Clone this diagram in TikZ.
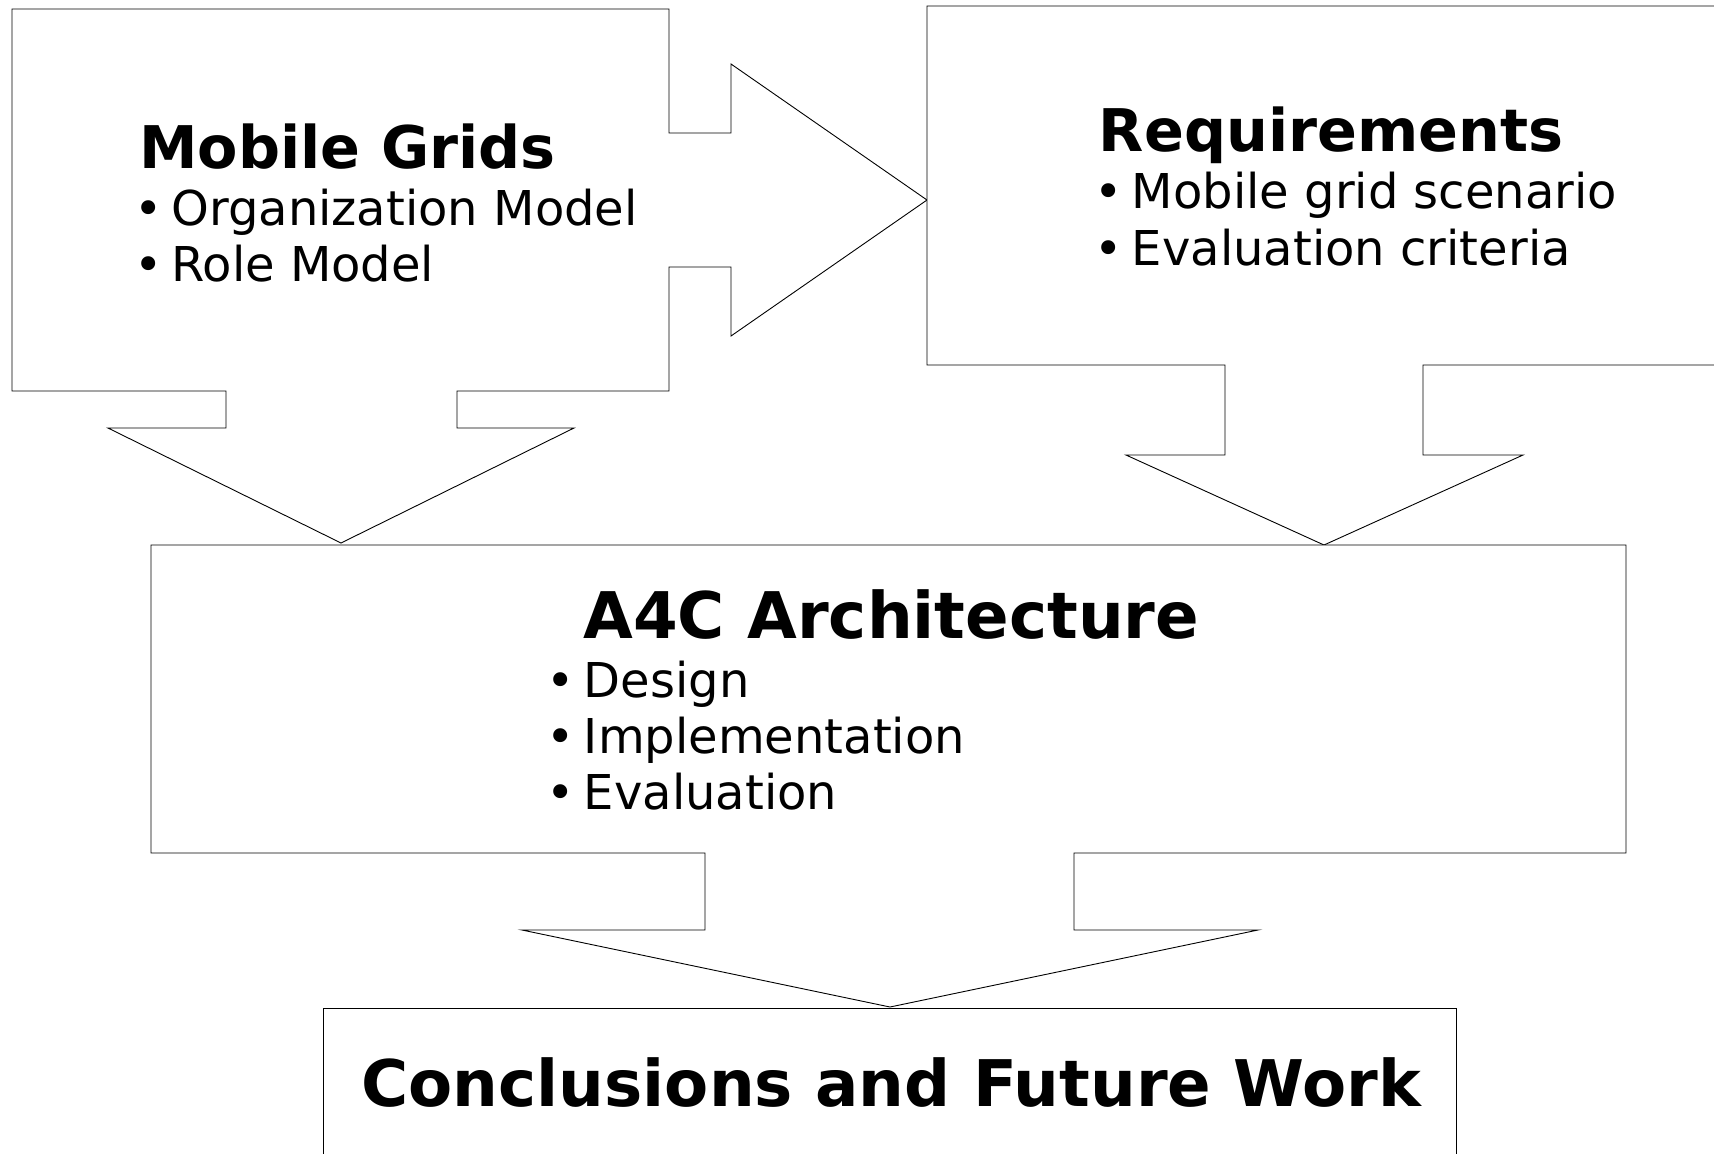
\documentclass[tikz,border=0pt]{standalone}
\usepackage{fontspec}
\setmainfont{DejaVu Sans}
\newcommand\itembul{\makebox[18.5pt][l]{•}}
\begin{document}
\begin{tikzpicture}[x=0.5pt,y=-0.5pt,
  outline/.style={draw=black,line width=0.45pt,line join=miter,fill=white},
  title/.style={anchor=base west,inner sep=0pt,font=\bfseries\fontsize{29.4pt}{35pt}\selectfont},
  bigtitle/.style={anchor=base west,inner sep=0pt,font=\bfseries\fontsize{32.15pt}{38pt}\selectfont},
  item/.style={anchor=base west,inner sep=0pt,font=\fontsize{24pt}{28.8pt}\selectfont}]
\useasboundingbox (0,0) rectangle (1714,1153);
\clip (0,0) rectangle (1714,1153);
\fill[white] (0,0) rectangle (1714,1153);

% Mobile Grids box with its two block arrows
\draw[outline] (226,391) -- (12,391) -- (12,9) -- (669,9) -- (669,133) -- (731,133)
  -- (731,64) -- (927,200) -- (731,336) -- (731,267) -- (669,267) -- (669,391)
  -- (457,391) -- (457,428) -- (574,428) -- (341,543) -- (108,428) -- (226,428) -- cycle;

% Requirements box with its block arrow
\draw[outline] (1225,365) -- (927,365) -- (927,6) -- (1740,6) -- (1740,365) -- (1423,365)
  -- (1423,455) -- (1523,455) -- (1324,545) -- (1126,455) -- (1225,455) -- cycle;

% A4C box with its block arrow
\draw[outline] (151,545) -- (1626,545) -- (1626,853) -- (1074,853) -- (1074,930)
  -- (1258,930) -- (890,1007) -- (522,930) -- (705,930) -- (705,853) -- (151,853) -- cycle;

% Conclusions box
\draw[outline] (323,1008) rectangle (1456,1175);

% texts
\node[title] (mg) at (139,168) {Mobile Grids};
\node[item] (mg1) at (134,225.5) {\itembul Organization Model};
\node[item] (mg2) at (134,281.5) {\itembul Role Model};

\node[title] (rq) at (1098.5,151) {Requirements};
\node[item] (rq1) at (1094.5,208.5) {\itembul Mobile grid scenario};
\node[item] (rq2) at (1094.5,265.5) {\itembul Evaluation criteria};

\node[bigtitle] (ar) at (583,638) {A4C Architecture};
\node[item] (ar1) at (546.5,697) {\itembul Design};
\node[item] (ar2) at (546.5,753) {\itembul Implementation};
\node[item] (ar3) at (546.5,809) {\itembul Evaluation};

\node[bigtitle] (cf) at (361,1106) {Conclusions and Future Work};
\end{tikzpicture}
\end{document}
